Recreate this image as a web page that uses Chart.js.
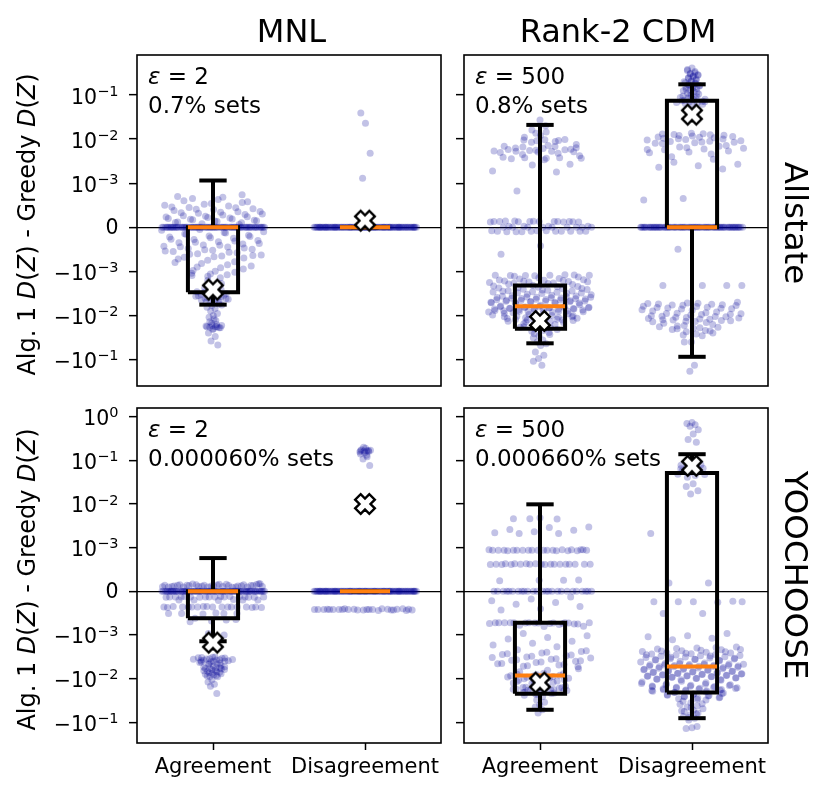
<!DOCTYPE html>
<html>
<head>
<meta charset="utf-8">
<script src="https://cdn.jsdelivr.net/npm/chart.js@4.4.1/dist/chart.umd.min.js"></script>
<style>
  body { margin: 0; background: #fff; }
  #fig { position: relative; width: 829px; height: 799px; font-family: "DejaVu Sans", sans-serif; color: #000; }
  #fig canvas { position: absolute; }
  .colTitle { position: absolute; top: 11px; font-size: 32px; line-height: 40px; transform: translateX(-50%); white-space: nowrap; }
  .rowTitle { position: absolute; left: 796px; font-size: 32.5px; line-height: 38px; transform: translate(-50%, -50%) rotate(90deg); white-space: nowrap; }
</style>
</head>
<body>
<div id="fig">
  <canvas id="c0"></canvas>
  <canvas id="c1"></canvas>
  <canvas id="c2"></canvas>
  <canvas id="c3"></canvas>
</div>
<script>
// ---- data ----
const categories = ['Agreement', 'Disagreement'];
const columnTitles = ['MNL', 'Rank-2 CDM'];
const rowTitles = ['Allstate', 'YOOCHOOSE'];
const panelEps = ['2', '500', '2', '500'];
const panelShares = ['0.7% sets', '0.8% sets', '0.000060% sets', '0.000660% sets'];
const tickValues = [1, 0.1, 0.01, 0.001, 0, -0.001, -0.01, -0.1];
const tickBase = ['10', '10', '10', '10', '0', '−10', '−10', '−10'];
const tickExp = ['0', '−1', '−2', '−3', '', '−3', '−2', '−1'];
const rowLimits = [[-0.4, 0.81], [-0.3, 1.58]];

// box stats: [low whisker, q1, median, q3, high whisker]
const allstateMnlBoxes = [[-0.0057, -0.003, 0, 0, 0.00115], [0, 0, 0, 0, 0]];
const allstateMnlMeans = [-0.0026, 0.00015];
const allstateCdmBoxes = [[-0.043, -0.02, -0.0062, -0.0021, 0.021], [-0.087, 0, 0, 0.074, 0.175]];
const allstateCdmMeans = [-0.0134, 0.036];
const yooMnlBoxes = [[-0.0014, -0.00062, 0, 0, 0.00076], [0, 0, 0, 0, 0]];
const yooMnlMeans = [-0.0015, 0.01];
const yooCdmBoxes = [[-0.052, -0.0224, -0.0085, -0.00072, 0.0098], [-0.081, -0.021, -0.0053, 0.051, 0.138]];
const yooCdmMeans = [-0.0124, 0.075];

// individual sets
const allstateMnlAgree = [
  0,0,0,0,0,0,0,0,0,0, 0,0,0,0,0,0,0,0,0,0, 0,0,0,0,0,0,0,0,0,0, 0,0,0,0,0,0,0,0,0,0,
  0,0,0,0,0,0,0,0,0,0, 0,0,0,0,0,0,0,0,0,0, 0,0,0,0,0,0,0,0,0,0, 0,0,0,0,0,0,0,0,0,0,
  7.4e-4, 6.3e-4, 6.0e-4, 5.6e-4, 5.2e-4, 5.0e-4, 4.8e-4, 4.5e-4, 4.2e-4, 4.0e-4, 3.8e-4, 3.5e-4, 3.2e-4,
  3.0e-4, 2.8e-4, 2.6e-4, 2.4e-4, 2.2e-4, 2.0e-4, 1.9e-4, 1.7e-4, 1.5e-4, 1.3e-4, 1.2e-4, 1.0e-4, 8e-5,
  7.0e-4, 6.8e-4, 6.5e-4, 5.8e-4, 5.4e-4, 4.6e-4, 4.4e-4, 4.1e-4, 3.6e-4, 3.4e-4, 3.3e-4, 2.9e-4, 2.5e-4,
  2.3e-4, 2.1e-4, 1.8e-4, 1.6e-4, 1.4e-4, 1.1e-4, 6e-5,
  -5e-5, -1.0e-4, -1.2e-4, -1.5e-4, -1.8e-4, -2.0e-4, -2.2e-4, -2.5e-4, -2.8e-4, -3.0e-4, -3.3e-4, -3.5e-4,
  -3.8e-4, -4.0e-4, -4.3e-4, -4.5e-4, -4.8e-4, -5.0e-4, -5.2e-4, -5.5e-4, -5.8e-4, -6.0e-4, -6.3e-4, -6.5e-4,
  -6.8e-4, -7.0e-4, -7.5e-4, -8.0e-4, -8.5e-4, -9.0e-4, -9.5e-4, -1.0e-3, -1.1e-3, -1.2e-3, -1.3e-3,
  -7e-5, -1.3e-4, -1.6e-4, -2.1e-4, -2.4e-4, -2.7e-4, -3.1e-4, -3.4e-4, -3.7e-4, -4.1e-4, -4.4e-4, -4.7e-4,
  -5.1e-4, -5.4e-4, -5.7e-4, -6.1e-4, -6.4e-4, -6.7e-4, -7.2e-4, -7.8e-4, -8.2e-4, -8.8e-4, -9.2e-4, -9.8e-4,
  -1.05e-3, -1.15e-3, -1.25e-3, -1.4e-3, -1.6e-3, -1.9e-3, -2.2e-3, -2.4e-3, -2.6e-3, -2.7e-3, -2.9e-3,
  -2.8e-3, -3.0e-3, -3.2e-3, -3.4e-3, -3.6e-3, -3.8e-3, -4.0e-3, -4.3e-3, -4.6e-3, -5.0e-3, -5.5e-3, -6.0e-3,
  -6.5e-3, -7.0e-3, -8.0e-3, -9.0e-3, -0.01, -0.011, -0.013, -0.015, -0.017, -0.018, -0.018, -0.019, -0.021,
  -0.025, -0.03, -0.038, -0.047,
  -3.1e-3, -3.3e-3, -3.5e-3, -3.5e-3, -3.7e-3, -3.9e-3, -4.1e-3, -4.2e-3, -4.4e-3, -4.5e-3, -4.8e-3, -5.2e-3,
  -5.8e-3, -0.012, -0.014, -0.016, -0.017, -0.0175, -0.018, -0.0185, -0.019, -0.02
];
const allstateMnlDisagree = [
  0,0,0,0,0,0,0,0,0,0, 0,0,0,0,0,0,0,0,0,0, 0,0,0,0,0,0,0,0,0,0, 0,0,0,0,0,0,0,0,0,0, 0,0,0,0,0,0,0,0,0,0,
  0,0,0,0,0,0,0,0,0,0, 0,0,0,0,0,0,0,0,0,0, 0,0,0,0,0,0,0,0,0,0, 0,0,0,0,0,0,0,0,0,0, 0,0,0,0,0,0,0,0,0,0,
  0.0013, 0.0048, 0.023, 0.039
];
const allstateCdmAgree = [
  0.027, 0.016, 0.0145, 0.0135, 0.0098, 0.0097, 0.0095, 0.0093, 0.0092, 0.0069, 0.0068, 0.0066, 0.0064, 0.0061,
  0.0058, 0.0057, 0.0055, 0.0054, 0.0053, 0.0053, 0.0052, 0.0051, 0.0039, 0.0038, 0.0038, 0.0037, 0.0037, 0.0036,
  0.0027, 0.0026, 0.0019, 0.0018, 0.00082,
  0.02, 0.012, 0.011, 0.0088, 0.0085, 0.0075, 0.0072, 0.0063, 0.0059, 0.0056, 0.005, 0.0048, 0.0045, 0.0042, 0.0034,
  1.4e-4, 1.3e-4, 1.3e-4, 1.2e-4, 1.3e-4, 1.4e-4, 1.2e-4, 1.3e-4, 1.3e-4, 1.2e-4, 2e-5, 2e-5, 2e-5, 2e-5,
  1.25e-4, 1.35e-4, 1.3e-4, 1.3e-4, 1.25e-4,
  0, 0, 0, 0, 0, 0, 0, 0, 0,
  -8e-5, -9e-5, -9e-5, -1.0e-4, -9e-5, -8e-5, -1.0e-4, -9e-5, -9e-5, -8e-5, -9e-5, -1.0e-4, -9e-5,
  -4.2e-4, -6.1e-4,
  -1.20e-3, -1.25e-3, -1.22e-3, -1.23e-3, -1.24e-3, -1.21e-3, -1.26e-3, -1.23e-3,
  -1.45e-3, -1.5e-3, -1.55e-3, -1.6e-3, -1.65e-3, -1.7e-3, -1.75e-3, -1.8e-3, -1.85e-3, -1.86e-3,
  -2.2e-3, -2.3e-3, -2.4e-3, -2.5e-3, -2.55e-3, -2.6e-3, -2.7e-3, -2.75e-3, -2.8e-3, -2.9e-3, -2.95e-3, -3.0e-3,
  -3.05e-3, -3.1e-3, -3.2e-3,
  -3.7e-3, -3.75e-3, -3.8e-3, -3.9e-3, -4.0e-3, -4.1e-3, -4.2e-3, -4.3e-3, -4.4e-3, -4.5e-3, -4.6e-3, -4.7e-3,
  -4.75e-3, -4.8e-3, -4.9e-3, -4.95e-3, -5.0e-3, -5.05e-3, -5.1e-3, -5.2e-3,
  -6.3e-3, -6.4e-3, -6.5e-3, -6.6e-3, -6.7e-3, -6.8e-3, -6.9e-3, -7.0e-3, -7.1e-3, -7.2e-3, -7.3e-3, -7.4e-3,
  -7.5e-3, -7.6e-3, -7.8e-3, -8.0e-3, -8.2e-3, -8.4e-3, -8.5e-3, -8.7e-3,
  -0.0102, -0.0105, -0.0108, -0.011, -0.0113, -0.0116, -0.012, -0.0124, -0.0128, -0.0132, -0.0135, -0.0138,
  -0.0142, -0.0145,
  -0.0174, -0.018, -0.019, -0.02, -0.021, -0.022, -0.023, -0.0245,
  -0.029, -0.032, -0.036, -0.04, -0.044, -0.048,
  -0.068, -0.08, -0.095, -0.11, -0.135,
  -1.3e-3, -1.35e-3, -1.4e-3, -1.58e-3, -1.62e-3, -1.68e-3, -1.72e-3, -1.9e-3, -1.95e-3, -2.0e-3, -2.1e-3,
  -2.15e-3, -2.25e-3, -2.35e-3, -2.45e-3, -2.65e-3, -2.85e-3, -3.15e-3, -3.3e-3, -3.4e-3, -3.5e-3, -3.6e-3,
  -3.65e-3, -3.85e-3, -3.95e-3, -4.05e-3, -4.15e-3, -4.25e-3, -4.35e-3, -4.55e-3, -4.65e-3, -4.85e-3, -5.15e-3,
  -5.3e-3, -5.5e-3, -5.7e-3, -5.9e-3, -6.1e-3, -6.2e-3, -6.45e-3, -6.55e-3, -6.75e-3, -6.95e-3, -7.15e-3,
  -7.35e-3, -7.7e-3, -7.9e-3, -8.1e-3, -8.3e-3, -8.6e-3, -8.9e-3, -9.2e-3, -9.5e-3, -9.8e-3, -0.0101, -0.0104,
  -0.0107, -0.0112, -0.0118, -0.0122, -0.0126, -0.013, -0.0148, -0.0155, -0.016, -0.0165, -0.0185, -0.0195,
  -0.026, -0.027
];
const allstateCdmDisagree = [
  0.41, 0.36, 0.32, 0.30, 0.28, 0.26, 0.24, 0.22, 0.20, 0.19, 0.18, 0.175, 0.165, 0.155, 0.15, 0.14, 0.13,
  0.125, 0.12, 0.11, 0.105, 0.10, 0.095, 0.09, 0.085, 0.08, 0.078, 0.074, 0.072, 0.07, 0.068, 0.066, 0.064,
  0.062, 0.06,
  0.38, 0.34, 0.31, 0.29, 0.27, 0.25, 0.23, 0.21, 0.2, 0.185, 0.17, 0.16, 0.145, 0.135, 0.115, 0.098, 0.088,
  0.082, 0.076, 0.07,
  0.0135, 0.013, 0.0125, 0.012, 0.0115, 0.011, 0.0105, 0.010, 0.0098, 0.0095, 0.009, 0.0088, 0.0085, 0.0083,
  0.0081, 0.0069, 0.0066, 0.0062, 0.006, 0.0057, 0.0054, 0.0051, 0.0049, 0.0035, 0.003, 0.0027, 0.0025,
  0.0023, 0.0021, 6.5e-4, 6.2e-4,
  0.0132, 0.0128, 0.0122, 0.0118, 0.0112, 0.0108, 0.0102, 0.0092, 0.0086, 0.0079, 0.0072, 0.0064, 0.0058,
  0.0046, 0.004,
  0,0,0,0,0,0,0,0,0,0, 0,0,0,0,0,0,0,0,0,0, 0,0,0,0,0,0,0,0,0,0, 0,0,0,0,0,0,0,0,0,0,
  0,0,0,0,0,0,0,0,0,0, 0,0,0,0,0,0,0,0,0,0, 0,0,0,0,0,0,0,0,0,0, 0,0,0,0,0,0,0,0,0,0,
  -5e-4, -2.1e-3, -2.1e-3, -2.1e-3, -2.1e-3, -5.2e-3, -5.4e-3, -5.6e-3, -5.8e-3, -6.0e-3, -6.3e-3, -6.6e-3,
  -6.9e-3, -7.2e-3, -7.4e-3, -8.7e-3, -9.0e-3, -9.4e-3, -9.8e-3, -0.0102, -0.0106, -0.011, -0.0115, -0.012,
  -0.0125, -0.013, -0.0135, -0.014, -0.0145, -0.0174, -0.0185, -0.0195, -0.021, -0.022, -0.0235, -0.025,
  -0.0265, -0.028, -0.029, -0.04, -0.04, -0.135, -0.186,
  -5.0e-3, -5.3e-3, -5.5e-3, -5.7e-3, -5.9e-3, -6.2e-3, -6.5e-3, -6.8e-3, -7.1e-3, -7.6e-3, -8.0e-3, -8.4e-3,
  -8.9e-3, -9.2e-3, -9.6e-3, -0.0104, -0.0108, -0.0112, -0.0118, -0.0122, -0.0128, -0.0132, -0.0138, -0.015,
  -0.016, -0.017, -0.018, -0.019, -0.02, -0.0225
];
const yooMnlAgree = [
  0,0,0,0,0,0,0,0,0,0, 0,0,0,0,0,0,0,0,0,0, 0,0,0,0,0,0,0,0,0,0, 0,0,0,0,0,0,0,0,0,0,
  0,0,0,0,0,0,0,0,0,0, 0,0,0,0,0,0,0,0,0,0, 0,0,0,0,0,0,0,0,0,0, 0,0,0,0,0,0,0,0,0,0,
  1.7e-4, 1.6e-4, 1.5e-4, 1.5e-4, 1.4e-4, 1.4e-4, 1.3e-4, 1.3e-4, 1.3e-4, 1.2e-4, 1.2e-4, 1.2e-4, 1.1e-4,
  1.1e-4, 1.1e-4, 1.0e-4, 1.0e-4, 1.0e-4, 1.0e-4, 9e-5,
  1.65e-4, 1.55e-4, 1.45e-4, 1.35e-4, 1.25e-4, 1.15e-4, 1.05e-4, 1.6e-4, 1.4e-4, 1.3e-4, 1.2e-4, 1.1e-4,
  1.0e-4, 1.5e-4, 1.7e-4,
  -1.2e-4, -1.3e-4, -1.3e-4, -1.3e-4, -1.4e-4, -1.2e-4, -1.3e-4, -1.4e-4, -1.3e-4, -1.3e-4,
  -1.25e-4, -1.35e-4, -1.3e-4, -1.3e-4, -1.2e-4, -1.4e-4, -1.3e-4, -1.3e-4,
  -1.9e-4, -2.0e-4, -2.0e-4, -2.1e-4, -2.0e-4, -2.0e-4,
  -3.5e-4, -3.6e-4, -3.6e-4, -3.6e-4, -3.7e-4, -3.6e-4, -3.5e-4, -3.6e-4, -3.6e-4, -3.7e-4, -3.6e-4, -3.6e-4,
  -3.6e-4, -3.5e-4, -3.7e-4, -3.6e-4, -3.6e-4, -3.6e-4,
  -5.0e-4, -5.1e-4, -5.1e-4, -5.2e-4, -5.1e-4, -5.1e-4,
  -6.2e-4, -6.5e-4, -6.8e-4, -7.0e-4, -6.6e-4, -9.7e-4, -1.0e-3,
  -3.2e-3, -3.3e-3, -3.4e-3, -3.5e-3, -3.6e-3, -3.7e-3, -3.8e-3, -3.9e-3, -4.0e-3, -4.2e-3, -4.4e-3, -4.5e-3,
  -5.4e-3, -5.6e-3, -5.8e-3, -6.0e-3, -6.3e-3, -6.6e-3, -7.0e-3, -7.4e-3, -7.8e-3, -8.2e-3, -8.7e-3, -9.1e-3,
  -0.0107, -0.012, -0.0135, -0.015, -0.022,
  -3.25e-3, -3.35e-3, -3.45e-3, -3.55e-3, -3.65e-3, -3.75e-3, -3.85e-3, -3.95e-3, -4.1e-3, -4.3e-3, -4.6e-3,
  -4.8e-3, -5.0e-3, -5.2e-3, -5.5e-3, -5.7e-3, -5.9e-3, -6.2e-3, -6.5e-3, -6.8e-3, -7.2e-3, -7.6e-3, -8.0e-3,
  -8.5e-3, -9.0e-3
];
const yooMnlDisagree = [
  0,0,0,0,0,0,0,0,0,0, 0,0,0,0,0,0,0,0,0,0, 0,0,0,0,0,0,0,0,0,0, 0,0,0,0,0,0,0,0,0,0, 0,0,0,0,0,0,0,0,0,0,
  0,0,0,0,0,0,0,0,0,0, 0,0,0,0,0,0,0,0,0,0, 0,0,0,0,0,0,0,0,0,0, 0,0,0,0,0,0,0,0,0,0, 0,0,0,0,0,0,0,0,0,0,
  -4.0e-4, -4.1e-4, -4.2e-4, -4.2e-4, -4.3e-4, -4.1e-4, -4.2e-4, -4.4e-4, -4.2e-4, -4.0e-4, -4.3e-4, -4.2e-4,
  -4.1e-4, -4.2e-4, -4.3e-4, -4.2e-4, -4.2e-4, -4.1e-4, -4.3e-4, -4.2e-4, -4.0e-4, -4.2e-4, -4.4e-4, -4.2e-4,
  -4.1e-4, -4.3e-4,
  0.2, 0.17, 0.166, 0.166, 0.16, 0.15, 0.14, 0.12, 0.107, 0.076, 0.19, 0.175, 0.168, 0.163, 0.155, 0.13
];
const yooCdmAgree = [
  4.8e-3, 4.6e-3, 4.5e-3, 4.6e-3,
  2.95e-3, 2.9e-3, 2.6e-3, 2.5e-3, 2.3e-3, 2.2e-3, 2.1e-3, 2.1e-3,
  9.5e-4, 9.4e-4, 9.4e-4, 9.3e-4, 9.4e-4, 9.5e-4, 9.4e-4, 9.4e-4, 9.3e-4, 9.4e-4, 9.4e-4, 9.5e-4, 9.4e-4, 9.4e-4,
  9.4e-4, 9.3e-4, 9.5e-4, 9.4e-4, 9.4e-4, 9.3e-4, 9.4e-4, 9.5e-4,
  6.2e-4, 6.1e-4, 6.2e-4, 6.3e-4, 6.2e-4, 6.2e-4, 6.1e-4, 6.2e-4, 6.3e-4, 6.2e-4, 6.2e-4, 6.2e-4,
  6.2e-4, 6.1e-4, 6.3e-4, 6.2e-4, 6.2e-4, 6.1e-4, 6.2e-4, 6.3e-4,
  2.6e-4, 2.5e-4, 2.4e-4, 2.5e-4,
  0,0,0,0,0,0,0,0,0,0, 0,0,0,0,0,0,0,0,0,0, 0,0,0,0,0,
  -1.3e-4, -1.8e-4, -2.2e-4, -2.6e-4, -3.0e-4, -3.5e-4, -4.0e-4, -4.3e-4,
  -7.2e-4, -7.3e-4, -7.2e-4, -7.4e-4, -7.2e-4, -7.5e-4, -7.3e-4, -7.2e-4, -7.6e-4, -7.8e-4, -8.0e-4, -8.1e-4,
  -7.2e-4, -7.3e-4, -7.2e-4, -7.4e-4, -7.3e-4, -7.2e-4, -7.5e-4, -7.3e-4, -7.2e-4, -7.4e-4,
  -9.7e-4, -1.05e-3, -1.15e-3, -1.25e-3, -1.4e-3, -1.55e-3, -1.7e-3, -1.86e-3,
  -2.2e-3, -2.4e-3, -2.6e-3, -2.8e-3, -3.0e-3, -3.2e-3, -3.4e-3, -3.6e-3, -3.8e-3, -4.0e-3, -4.3e-3, -4.6e-3,
  -4.9e-3, -5.2e-3, -5.4e-3,
  -7.6e-3, -8.0e-3, -8.4e-3, -8.8e-3, -9.2e-3, -9.6e-3, -0.0101, -0.0106, -0.0111, -0.0117, -0.0123, -0.0129,
  -0.015, -0.0155, -0.016, -0.0165, -0.017, -0.0175, -0.018, -0.0185, -0.019, -0.02, -0.021, -0.022, -0.023,
  -0.024, -0.0257,
  -0.031, -0.035, -0.04, -0.045, -0.052, -0.062,
  -2.3e-3, -2.5e-3, -2.7e-3, -2.9e-3, -3.1e-3, -3.3e-3, -3.5e-3, -3.7e-3, -3.9e-3, -4.2e-3, -4.5e-3, -4.8e-3,
  -5.1e-3, -6.0e-3, -6.5e-3, -7.0e-3, -7.8e-3, -8.2e-3, -8.6e-3, -9.0e-3, -9.4e-3, -9.8e-3, -0.0104, -0.0109,
  -0.0114, -0.012, -0.0126, -0.0153, -0.0158, -0.0163, -0.0168, -0.0173, -0.0178, -0.0183, -0.0188, -0.0195,
  -0.0205, -0.0215, -0.0225
];
const yooCdmDisagree = [
  0.74, 0.7, 0.65, 0.6, 0.5, 0.4, 0.3, 0.26,
  0.081, 0.077, 0.073, 0.07, 0.066, 0.062, 0.058, 0.055, 0.051, 0.048, 0.045, 0.041,
  0.079, 0.071, 0.064, 0.06, 0.053, 0.047,
  0.029, 0.025, 0.02, 0.017, 2.1e-3, 1.9e-4, 1.9e-4,
  -2.3e-4, -2.4e-4, -2.4e-4, -2.5e-4, -2.4e-4, -2.4e-4, -5.1e-4, -5.1e-4,
  -9.7e-4, -1.05e-3, -1.1e-3, -1.2e-3, -1.3e-3,
  -1.9e-3, -2.0e-3, -2.1e-3, -2.2e-3, -2.3e-3, -2.4e-3, -2.5e-3, -2.55e-3, -2.6e-3, -2.7e-3, -2.75e-3, -2.8e-3,
  -2.9e-3, -2.95e-3, -3.0e-3, -3.1e-3, -3.15e-3, -3.2e-3, -3.3e-3, -3.4e-3, -3.5e-3, -3.55e-3, -3.6e-3, -3.7e-3,
  -3.8e-3,
  -4.6e-3, -4.7e-3, -4.8e-3, -4.9e-3, -5.0e-3, -5.1e-3, -5.2e-3, -5.3e-3, -5.4e-3, -5.5e-3, -5.7e-3, -5.8e-3,
  -6.0e-3, -6.2e-3, -6.3e-3, -6.5e-3, -6.7e-3, -6.9e-3, -7.1e-3, -7.3e-3, -7.5e-3, -7.7e-3, -7.9e-3, -8.1e-3,
  -8.3e-3, -8.5e-3, -8.7e-3, -8.9e-3, -9.1e-3, -9.4e-3, -9.7e-3, -0.01, -0.0102, -0.0105, -0.0107,
  -0.013, -0.0135, -0.014, -0.0145, -0.015, -0.0155, -0.016, -0.0165, -0.017, -0.0175, -0.018, -0.0185, -0.019,
  -0.0195, -0.02, -0.021, -0.022, -0.023, -0.024, -0.025, -0.026, -0.027, -0.028, -0.029, -0.031,
  -0.036, -0.039, -0.042, -0.045, -0.049, -0.053, -0.057, -0.062, -0.068, -0.074, -0.081, -0.089,
  -0.125, -0.135, -0.14,
  -1.95e-3, -2.05e-3, -2.15e-3, -2.25e-3, -2.35e-3, -2.45e-3, -2.65e-3, -2.85e-3, -3.05e-3, -3.25e-3, -3.45e-3,
  -3.65e-3, -3.75e-3, -3.9e-3, -4.0e-3, -4.2e-3, -4.4e-3, -4.5e-3, -4.65e-3, -4.75e-3, -4.85e-3, -4.95e-3,
  -5.05e-3, -5.15e-3, -5.25e-3, -5.35e-3, -5.6e-3, -5.9e-3, -6.1e-3, -6.4e-3, -6.6e-3, -6.8e-3, -7.0e-3,
  -7.2e-3, -7.4e-3, -7.6e-3, -7.8e-3, -8.0e-3, -8.2e-3, -8.4e-3, -8.6e-3, -8.8e-3, -9.0e-3, -9.3e-3, -9.6e-3,
  -9.9e-3, -0.0104, -0.011, -0.0115, -0.012, -0.0125, -0.0132, -0.0138, -0.0142, -0.0148, -0.0152, -0.0158,
  -0.0162, -0.0168, -0.0172, -0.0178, -0.0182, -0.0188, -0.0192, -0.0205, -0.0215, -0.0225, -0.0235, -0.0245,
  -0.0255, -0.0275, -0.03, -0.033, -0.038, -0.047, -0.055, -0.065, -0.078
];

// ---- symlog axis (linear between -1e-3 and 1e-3) ----
const LINTHRESH = 1e-3;
function symlog(v) {
  const a = Math.abs(v);
  return a <= LINTHRESH ? v / LINTHRESH : Math.sign(v) * (1 + Math.log10(a / LINTHRESH));
}
function symexp(t) {
  const a = Math.abs(t);
  return a <= 1 ? t * LINTHRESH : Math.sign(t) * LINTHRESH * Math.pow(10, a - 1);
}

class SymlogScale extends Chart.Scale {
  determineDataLimits() {
    this.min = this.options.min;
    this.max = this.options.max;
  }
  buildTicks() {
    return tickValues.filter(v => v >= this.min && v <= this.max).map(v => ({ value: v }));
  }
  getLabelForValue(v) {
    return String(v);
  }
  configure() {
    super.configure();
    this._tMin = symlog(this.min);
    this._tRange = symlog(this.max) - this._tMin;
  }
  getPixelForValue(v) {
    return this.getPixelForDecimal((symlog(v) - this._tMin) / this._tRange);
  }
  getValueForPixel(px) {
    return symexp(this._tMin + this.getDecimalForPixel(px) * this._tRange);
  }
}
SymlogScale.id = 'symlog';
SymlogScale.defaults = {};
Chart.register(SymlogScale);

Chart.defaults.font.family = '"DejaVu Sans", sans-serif';
Chart.defaults.color = '#000';

// ---- styling ----
const FONT = '"DejaVu Sans", sans-serif';
const POINT_COLOR = 'rgba(0, 0, 150, 0.24)';
const MEDIAN_COLOR = '#ff7f0e';
const BOX_HALF = 0.165;
const CAP_HALF = 0.09;
const JITTER = 0.34;
const LW = 4;

// sina-style spread: width follows a kernel density of the values
function sinaOffsets(vals) {
  const n = vals.length;
  const sorted = [...vals].sort((a, b) => a - b);
  const q = p => sorted[Math.floor(p * (n - 1))];
  const mean = vals.reduce((s, v) => s + v, 0) / n;
  const sd = Math.sqrt(vals.reduce((s, v) => s + (v - mean) ** 2, 0) / n);
  const iqr = q(0.75) - q(0.25);
  const spread = iqr > 0 ? Math.min(sd, iqr / 1.34) : sd * 0.05;
  const bw = 0.9 * spread * Math.pow(n, -0.2);
  const dens = vals.map(v => vals.reduce((s, w) => s + Math.exp(-0.5 * ((v - w) / bw) ** 2), 0));
  const full = 0.35 * Math.max(...dens);
  return vals.map((v, i) => {
    const u = (0.5 + i * 0.6180339887) % 1;
    return (2 * u - 1) * JITTER * Math.max(0.03, Math.min(1, Math.pow(dens[i] / full, 0.6)));
  });
}

// white filled "X" with black edge, like matplotlib's 'X' marker
function meanMarker() {
  const c = document.createElement('canvas');
  c.width = c.height = 28;
  const g = c.getContext('2d');
  const L = 10, w = 3.9;
  const pts = [[w, L], [w, w], [L, w], [L, -w], [w, -w], [w, -L], [-w, -L], [-w, -w], [-L, -w], [-L, w], [-w, w], [-w, L]];
  g.translate(14, 14);
  g.rotate(Math.PI / 4);
  g.beginPath();
  pts.forEach(([x, y], i) => i ? g.lineTo(x, y) : g.moveTo(x, y));
  g.closePath();
  g.fillStyle = '#fff';
  g.fill();
  g.lineWidth = 2.4;
  g.strokeStyle = '#000';
  g.stroke();
  return c;
}
const xMarker = meanMarker();

function segment(points, color, order) {
  return {
    type: 'scatter', data: points, showLine: true, borderColor: color, borderWidth: LW,
    pointRadius: 0, fill: false, order: order, borderJoinStyle: 'miter', borderCapStyle: 'butt'
  };
}

// draw a run of [text, font] pieces from x along the current baseline
function drawRuns(ctx, runs, x, y) {
  runs.forEach(([text, font, dy]) => {
    ctx.font = font;
    ctx.fillText(text, x, y + (dy || 0));
    x += ctx.measureText(text).width;
  });
}
function runsWidth(ctx, runs) {
  return runs.reduce((w, [text, font]) => { ctx.font = font; return w + ctx.measureText(text).width; }, 0);
}

// frame, corner notes, math style tick labels and y title
const panelFrame = {
  id: 'panelFrame',
  afterDraw(chart, args, opts) {
    const { ctx, chartArea: a } = chart;
    ctx.save();
    ctx.strokeStyle = '#000';
    ctx.lineWidth = 1.6;
    ctx.strokeRect(a.left, a.top, a.right - a.left, a.bottom - a.top);
    ctx.fillStyle = '#000';
    ctx.textBaseline = 'alphabetic';
    ctx.textAlign = 'left';
    drawRuns(ctx, [['ε', 'italic 23px ' + FONT], [' = ' + panelEps[opts.idx], '23px ' + FONT]], a.left + 11, a.top + 29);
    drawRuns(ctx, [[panelShares[opts.idx], '23px ' + FONT]], a.left + 11, a.top + 58);

    if (opts.showY) {
      const s = chart.scales.y;
      s.ticks.forEach(t => {
        const k = tickValues.indexOf(t.value);
        const y = s.getPixelForValue(t.value);
        const runs = tickExp[k]
          ? [[tickBase[k], '20.5px ' + FONT, 8.5], [tickExp[k], '14.5px ' + FONT, 0.7]]
          : [[tickBase[k], '20.5px ' + FONT, 7]];
        drawRuns(ctx, runs, 118.5 - runsWidth(ctx, runs), y);
      });
      const title = [['Alg. 1 ', '24px ' + FONT], ['D', 'italic 24px ' + FONT], ['(', '24px ' + FONT],
        ['Z', 'italic 24px ' + FONT], [') - Greedy ', '24px ' + FONT], ['D', 'italic 24px ' + FONT],
        ['(', '24px ' + FONT], ['Z', 'italic 24px ' + FONT], [')', '24px ' + FONT]];
      ctx.translate(35, (a.top + a.bottom) / 2 + 4);
      ctx.rotate(-Math.PI / 2);
      drawRuns(ctx, title, -runsWidth(ctx, title) / 2, 0);
    }
    ctx.restore();
  }
};

// canvas placement for each panel: [left, top, width, height]
const panelBoxes = [[0, 44, 452, 353], [453, 44, 326, 353], [0, 397, 452, 402], [453, 397, 326, 402]];

function noPad(s) {
  s.paddingTop = 0; s.paddingBottom = 0; s.paddingLeft = 0; s.paddingRight = 0;
}

function buildPanel(idx, groups, boxes, means) {
  const row = Math.floor(idx / 2), col = idx % 2;
  const [left, top, w, h] = panelBoxes[idx];
  const canvas = document.getElementById('c' + idx);
  canvas.width = w; canvas.height = h;
  canvas.style.left = left + 'px'; canvas.style.top = top + 'px';
  canvas.style.width = w + 'px'; canvas.style.height = h + 'px';

  const datasets = [];
  groups.forEach((vals, k) => {
    const offs = sinaOffsets(vals);
    datasets.push({
      type: 'scatter', data: vals.map((v, i) => ({ x: k + offs[i], y: v })),
      backgroundColor: POINT_COLOR, borderWidth: 0, pointRadius: 3.5, order: 3
    });
    const [lo, q1, med, q3, hi] = boxes[k];
    datasets.push(segment([{ x: k - BOX_HALF, y: q1 }, { x: k + BOX_HALF, y: q1 }, { x: k + BOX_HALF, y: q3 },
      { x: k - BOX_HALF, y: q3 }, { x: k - BOX_HALF, y: q1 }], '#000', 2));
    datasets.push(segment([{ x: k, y: q3 }, { x: k, y: hi }], '#000', 2));
    datasets.push(segment([{ x: k, y: q1 }, { x: k, y: lo }], '#000', 2));
    datasets.push(segment([{ x: k - CAP_HALF, y: hi }, { x: k + CAP_HALF, y: hi }], '#000', 2));
    datasets.push(segment([{ x: k - CAP_HALF, y: lo }, { x: k + CAP_HALF, y: lo }], '#000', 2));
    datasets.push(segment([{ x: k - BOX_HALF, y: med }, { x: k + BOX_HALF, y: med }], MEDIAN_COLOR, 1));
    datasets.push({
      type: 'scatter', data: [{ x: k, y: means[k] }], pointStyle: xMarker, pointRadius: 10, order: 0
    });
  });

  const showX = row === 1;
  const showY = col === 0;
  new Chart(canvas, {
    type: 'scatter',
    data: { datasets },
    options: {
      responsive: false, animation: false, events: [],
      layout: { padding: { top: 10, right: 6, bottom: showX ? 0 : 5, left: 0 } },
      plugins: { legend: { display: false }, tooltip: { enabled: false }, panelFrame: { idx, showY } },
      scales: {
        x: {
          type: 'linear', min: -0.5, max: 1.5, display: showX,
          afterBuildTicks: s => { s.ticks = [{ value: 0 }, { value: 1 }]; },
          afterFit: s => { if (showX) s.height = 56; noPad(s); },
          border: { display: false },
          grid: { drawOnChartArea: false, drawTicks: true, tickLength: 7, tickColor: '#000', tickWidth: 1.5 },
          ticks: { callback: v => categories[v], font: { size: 21 }, padding: 5, maxRotation: 0, autoSkip: false }
        },
        y: {
          type: 'symlog', position: 'left', min: rowLimits[row][0], max: rowLimits[row][1],
          afterFit: s => { s.width = showY ? 137 : 10; noPad(s); },
          border: { display: false },
          grid: {
            drawTicks: true, tickLength: 8, tickColor: '#000', tickWidth: 1.5,
            color: c => (c.tick && c.tick.value === 0) ? '#000' : 'rgba(0,0,0,0)', lineWidth: 1.3
          },
          ticks: { display: false },
          title: { display: false }
        }
      }
    },
    plugins: [panelFrame]
  });
}

buildPanel(0, [allstateMnlAgree, allstateMnlDisagree], allstateMnlBoxes, allstateMnlMeans);
buildPanel(1, [allstateCdmAgree, allstateCdmDisagree], allstateCdmBoxes, allstateCdmMeans);
buildPanel(2, [yooMnlAgree, yooMnlDisagree], yooMnlBoxes, yooMnlMeans);
buildPanel(3, [yooCdmAgree, yooCdmDisagree], yooCdmBoxes, yooCdmMeans);

// column and row titles
const fig = document.getElementById('fig');
[291.5, 618].forEach((cx, i) => {
  const d = document.createElement('div');
  d.className = 'colTitle';
  d.style.left = cx + 'px';
  d.textContent = columnTitles[i];
  fig.appendChild(d);
});
[223, 575].forEach((cy, i) => {
  const d = document.createElement('div');
  d.className = 'rowTitle';
  d.style.top = cy + 'px';
  d.textContent = rowTitles[i];
  fig.appendChild(d);
});
</script>
</body>
</html>
